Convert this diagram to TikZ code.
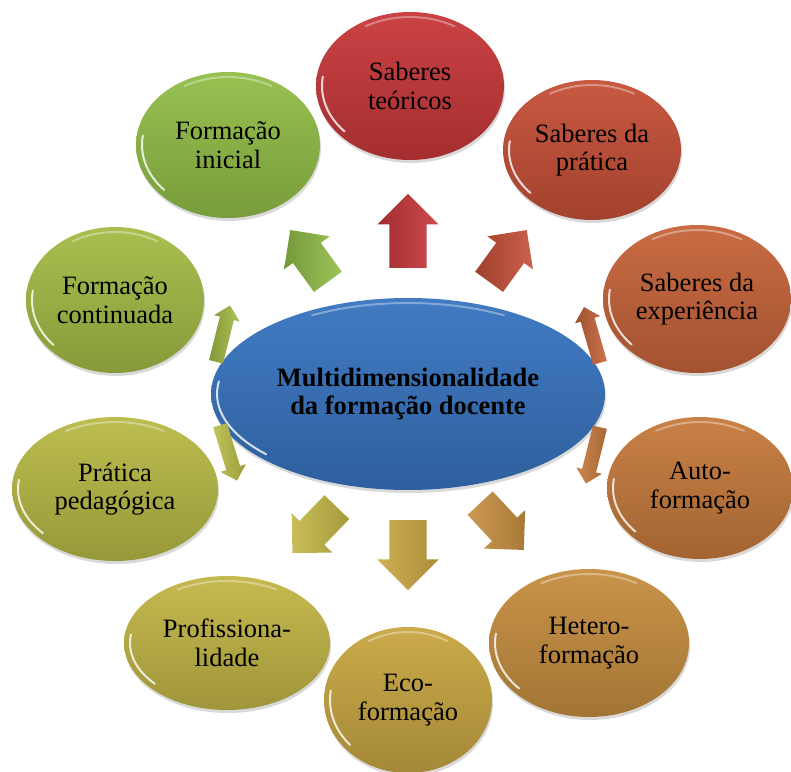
\documentclass[tikz,border=0pt]{standalone}
\usepackage{fontspec}
\setmainfont{Liberation Serif}
\usetikzlibrary{shapes.geometric,shapes.arrows,shadows}

\definecolor{teo}{RGB}{200,56,58}
\definecolor{prat}{RGB}{198,80,56}
\definecolor{expe}{RGB}{198,100,58}
\definecolor{auto}{RGB}{198,122,60}
\definecolor{hetero}{RGB}{198,142,64}
\definecolor{eco}{RGB}{200,166,66}
\definecolor{prof}{RGB}{194,182,70}
\definecolor{pped}{RGB}{184,186,70}
\definecolor{cont}{RGB}{164,188,70}
\definecolor{ini}{RGB}{146,190,72}
\definecolor{mid}{RGB}{56,116,192}

% white shine on the left rim of a bubble
\newcommand{\gloss}[3]{%
  \draw[shine] (#1.center) ++(172:{#2-6} and {#3-6})
    arc[start angle=172, end angle=222, x radius=#2-6, y radius=#3-6];
  \draw[shine, opacity=.35] (#1.center) ++(60:{#2-5} and {#3-5})
    arc[start angle=60, end angle=120, x radius=#2-5, y radius=#3-5];}

\begin{document}
\begin{tikzpicture}[x=1pt, y=1pt,
  bubble/.style={ellipse, inner sep=0pt, align=center, text=black,
                 font=\fontsize{26.5}{28.5}\selectfont,
                 drop shadow={opacity=.3, shadow xshift=1pt, shadow yshift=-3pt}},
  bigarr/.style={single arrow, anchor=tail, inner xsep=0pt, inner ysep=18.5pt,
                 single arrow head extend=12pt},
  diagarr/.style={single arrow, anchor=tail, inner xsep=0pt, inner ysep=17pt,
                  single arrow head extend=11pt, minimum height=64pt},
  thinarr/.style={single arrow, anchor=tail, inner xsep=0pt, inner ysep=7pt,
                  single arrow head extend=6pt, minimum height=58pt},
  shine/.style={white, opacity=.8, line width=2pt, line cap=round}]
\useasboundingbox (0,0) rectangle (791,771);

% outer bubbles
\node[bubble, top color=teo!95!white, bottom color=teo!82!black,
      minimum width=188pt, minimum height=148pt] (teo) at (410,685) {Saberes\\te\'oricos};
\node[bubble, top color=prat!95!white, bottom color=prat!82!black,
      minimum width=178pt, minimum height=140pt] (prat) at (592,621) {Saberes da\\pr\'atica};
\node[bubble, top color=expe!95!white, bottom color=expe!82!black,
      minimum width=188pt, minimum height=148pt] (expe) at (697,472) {Saberes da\\experi\^encia};
\node[bubble, top color=auto!95!white, bottom color=auto!82!black,
      minimum width=186pt, minimum height=142pt] (auto) at (700,283) {Auto-\\formação};
\node[bubble, top color=hetero!95!white, bottom color=hetero!82!black,
      minimum width=200pt, minimum height=148pt] (hetero) at (589,128) {Hetero-\\formação};
\node[bubble, top color=eco!95!white, bottom color=eco!82!black,
      minimum width=168pt, minimum height=146pt] (eco) at (408,71) {Eco-\\formação};
\node[bubble, top color=prof!95!white, bottom color=prof!82!black,
      minimum width=206pt, minimum height=134pt] (prof) at (227,128) {Profissiona-\\lidade};
\node[bubble, top color=pped!95!white, bottom color=pped!82!black,
      minimum width=206pt, minimum height=144pt] (pped) at (115,282) {Prática\\pedagógica};
\node[bubble, top color=cont!95!white, bottom color=cont!82!black,
      minimum width=178pt, minimum height=146pt] (cont) at (115,471) {Formação\\continuada};
\node[bubble, top color=ini!95!white, bottom color=ini!82!black,
      minimum width=184pt, minimum height=146pt] (ini) at (228,626) {Formação\\inicial};

% centre
\node[bubble, top color=mid!95!white, bottom color=mid!82!black,
      minimum width=394pt, minimum height=192pt, font=\fontsize{26.5}{28.5}\selectfont\bfseries]
      (mid) at (408,377) {Multidimensionalidade\\da formação docente};

\gloss{teo}{94}{74}
\gloss{prat}{89}{70}
\gloss{expe}{94}{74}
\gloss{auto}{93}{71}
\gloss{hetero}{100}{74}
\gloss{eco}{84}{73}
\gloss{prof}{103}{67}
\gloss{pped}{103}{72}
\gloss{cont}{89}{73}
\gloss{ini}{92}{73}
\gloss{mid}{197}{96}

% arrows, placed by their tails
\node[bigarr, left color=teo!80!black, right color=teo!90!white,
      minimum height=74pt, rotate=90] (aTeo) at (408,503) {};
\node[diagarr, left color=prat!80!black, right color=prat!90!white, rotate=54] (aPrat) at (489,489) {};
\node[diagarr, left color=ini!80!black, right color=ini!90!white, rotate=126] (aIni) at (328,489) {};
\node[bigarr, left color=eco!90!white, right color=eco!85!black,
      minimum height=70pt, rotate=-90] (aEco) at (408,251) {};
\node[diagarr, left color=prof!90!white, right color=prof!85!black, rotate=-134] (aProf) at (337,264) {};
\node[diagarr, left color=hetero!90!white, right color=hetero!85!black, rotate=-47] (aHet) at (480,268) {};
\node[thinarr, left color=cont!80!black, right color=cont!90!white, rotate=76] (aCont) at (216,409) {};
\node[thinarr, left color=pped!90!white, right color=pped!85!black, rotate=-73] (aPped) at (220,346) {};
\node[thinarr, left color=expe!80!black, right color=expe!90!white, rotate=106] (aExpe) at (600,408) {};
\node[thinarr, left color=auto!90!white, right color=auto!85!black, rotate=-104] (aAuto) at (600,344) {};

\end{tikzpicture}
\end{document}
